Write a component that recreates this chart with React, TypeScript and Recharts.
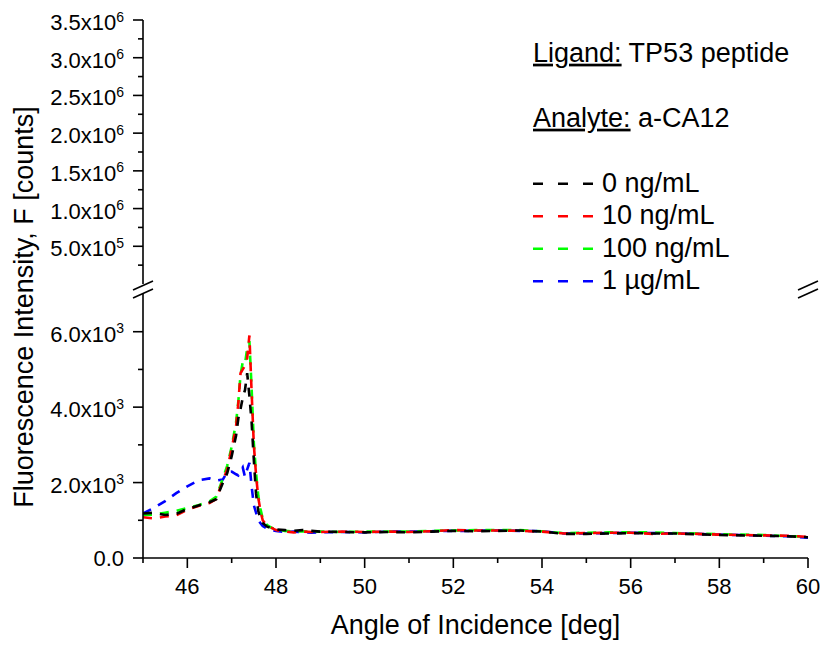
import React from 'react';
import { LineChart, Line, XAxis, YAxis } from 'recharts';

// ---------- data ----------
const angles = [
  45.0, 45.25, 45.5, 45.75, 46.0, 46.25, 46.5, 46.65, 46.8, 46.9, 47.0, 47.1, 47.15, 47.2,
  47.25, 47.3, 47.35, 47.4, 47.45, 47.5, 47.55, 47.6, 47.65, 47.7, 47.8, 47.9, 48.0, 48.2,
  48.4, 48.6, 48.8, 49.0, 49.5, 50.0, 50.5, 51.0, 51.5, 52.0, 52.5, 53.0, 53.5, 54.0, 54.5,
  55.0, 55.5, 56.0, 56.5, 57.0, 57.5, 58.0, 58.5, 59.0, 59.5, 60.0,
];
const conc0 = [
  1180, 1200, 1140, 1170, 1300, 1390, 1480, 1560, 1990, 2250, 2700, 3250, 3700, 3950,
  4250, 4450, 4900, 4300, 3600, 2600, 1700, 1250, 1050, 930, 830, 790, 760, 740,
  720, 740, 720, 700, 690, 680, 690, 680, 700, 720, 710, 720, 730, 700, 640,
  640, 650, 660, 650, 650, 630, 610, 600, 590, 580, 550,
];
const conc10 = [
  1080, 1050, 1100, 1130, 1280, 1380, 1460, 1560, 2050, 2350, 2900, 3500, 4100, 4900,
  5000, 5100, 5300, 5900, 4400, 3000, 2200, 1600, 1250, 1000, 850, 800, 740, 700,
  680, 700, 690, 690, 700, 690, 700, 690, 710, 740, 730, 730, 720, 700, 650,
  660, 670, 670, 640, 650, 640, 620, 610, 600, 590, 560,
];
const conc100 = [
  1140, 1150, 1200, 1250, 1330, 1400, 1500, 1620, 2100, 2450, 2950, 3600, 4150, 4850,
  5200, 5150, 5550, 5750, 4500, 3050, 2250, 1650, 1300, 1050, 870, 800, 760, 720,
  700, 710, 700, 700, 690, 700, 700, 700, 720, 730, 740, 740, 740, 710, 660,
  670, 680, 680, 680, 660, 650, 630, 620, 610, 580, 570,
];
const conc1000 = [
  1180, 1330, 1510, 1720, 1900, 2060, 2110, 2050, 2080, 2280, 2290, 2220, 2190, 2300,
  2400, 2150, 2350, 2520, 1900, 1400, 1200, 1000, 920, 850, 780, 740, 720, 690,
  700, 680, 670, 680, 690, 680, 700, 700, 710, 720, 720, 730, 720, 710, 650,
  650, 660, 670, 660, 650, 640, 620, 610, 590, 580, 540,
];
const seriesNames = ['0 ng/mL', '10 ng/mL', '100 ng/mL', '1 \u00b5g/mL'];
const seriesColors = ['#000000', '#ff0000', '#00ff00', '#0000ff'];
const seriesKeys = ['c0', 'c10', 'c100', 'c1000'];

const xTicks = [45, 46, 47, 48, 49, 50, 51, 52, 53, 54, 55, 56, 57, 58, 59, 60];
const lowerTicks = [0, 1000, 2000, 3000, 4000, 5000, 6000];
const upperTicks = [
  250000, 500000, 750000, 1000000, 1250000, 1500000, 1750000, 2000000, 2250000,
  2500000, 2750000, 3000000, 3250000, 3500000,
];

const data = angles.map((a, i) => ({
  angle: a,
  c0: conc0[i],
  c10: conc10[i],
  c100: conc100[i],
  c1000: conc1000[i],
}));

// ---------- layout ----------
const W = 822;
const H = 646;
const LEFT = 143;
const RIGHT = 808;
const UP_TOP = 20;
const UP_BOTTOM = 284;
const LOW_TOP = 294;
const LOW_BOTTOM = 558;
const FONT = '"Liberation Sans", Arial, sans-serif';
const AX_W = 1.6;

const fmt = (v: number) => {
  if (v === 0) return { base: '0.0', sup: '' };
  const exp = Math.floor(Math.log10(v) + 1e-9);
  const mant = v / Math.pow(10, exp);
  return { base: mant.toFixed(1) + 'x10', sup: String(exp) };
};

const makeYTick = (majorStep: number) => (props: any) => {
  const { x, y, payload } = props;
  const v = payload.value;
  const ax = x + 10;
  const major = Math.abs(v % majorStep) < 1e-6;
  const f = fmt(v);
  return (
    <g>
      <line x1={ax} x2={ax - (major ? 10 : 5)} y1={y} y2={y} stroke="#000" strokeWidth={AX_W} />
      {major && (
        <text
          x={ax - 19}
          y={y + (f.sup ? 10 : 7.5)}
          textAnchor="end"
          fontSize={22}
          fontFamily={FONT}
          fill="#000"
        >
          {f.base}
          {f.sup && (
            <tspan dy={-8.5} fontSize={14}>
              {f.sup}
            </tspan>
          )}
        </text>
      )}
    </g>
  );
};

const XTick = (props: any) => {
  const { x, y, payload } = props;
  const v = payload.value;
  const ay = y - 10;
  const major = v % 2 === 0;
  return (
    <g>
      <line x1={x} x2={x} y1={ay} y2={ay + (major ? 10 : 5)} stroke="#000" strokeWidth={AX_W} />
      {major && (
        <text x={x} y={ay + 36} textAnchor="middle" fontSize={22} fontFamily={FONT} fill="#000">
          {v}
        </text>
      )}
    </g>
  );
};

const breakMark = (ax: number) => (
  <g key={ax}>
    <line x1={ax - 10} y1={290} x2={ax + 10} y2={281} stroke="#000" strokeWidth={AX_W} />
    <line x1={ax - 10} y1={298} x2={ax + 10} y2={289} stroke="#000" strokeWidth={AX_W} />
  </g>
);

export default function App() {
  const abs: React.CSSProperties = { position: 'absolute', left: 0, top: 0 };
  return (
    <div style={{ position: 'absolute', left: 0, top: 0, width: W, height: H, background: '#fff' }}>
      {/* upper (empty) segment */}
      <div style={abs}>
        <LineChart
          width={W}
          height={H}
          data={data}
          margin={{ top: UP_TOP, right: W - RIGHT, left: 0, bottom: H - UP_BOTTOM }}
        >
          <XAxis
            xAxisId="top"
            orientation="top"
            dataKey="angle"
            type="number"
            domain={[45, 60]}
            height={0}
            tick={false}
            tickLine={false}
            axisLine={{ stroke: '#000', strokeWidth: AX_W }}
          />
          <YAxis
            yAxisId="up"
            type="number"
            domain={[0, 3500000]}
            ticks={upperTicks}
            interval={0}
            width={LEFT}
            tickSize={10}
            tickMargin={0}
            tickLine={false}
            tick={makeYTick(500000)}
            axisLine={{ stroke: '#000', strokeWidth: AX_W }}
            allowDataOverflow
          />
          <YAxis
            yAxisId="upR"
            orientation="right"
            type="number"
            domain={[0, 1]}
            width={0}
            tick={false}
            tickLine={false}
            axisLine={{ stroke: '#000', strokeWidth: AX_W }}
          />
        </LineChart>
      </div>
      {/* lower segment with data */}
      <div style={abs}>
        <LineChart
          width={W}
          height={H}
          data={data}
          margin={{ top: LOW_TOP, right: W - RIGHT, left: 0, bottom: 0 }}
        >
          <XAxis
            dataKey="angle"
            type="number"
            domain={[45, 60]}
            ticks={xTicks}
            interval={0}
            height={H - LOW_BOTTOM}
            tickSize={10}
            tickMargin={0}
            tickLine={false}
            tick={XTick}
            axisLine={{ stroke: '#000', strokeWidth: AX_W }}
            allowDataOverflow
          />
          <YAxis
            type="number"
            domain={[0, 7000]}
            ticks={lowerTicks}
            interval={0}
            width={LEFT}
            tickSize={10}
            tickMargin={0}
            tickLine={false}
            tick={makeYTick(2000)}
            axisLine={{ stroke: '#000', strokeWidth: AX_W }}
            allowDataOverflow
          />
          <YAxis
            yAxisId="lowR"
            orientation="right"
            type="number"
            domain={[0, 1]}
            width={0}
            tick={false}
            tickLine={false}
            axisLine={{ stroke: '#000', strokeWidth: AX_W }}
          />
          {[3, 2, 1, 0].map((i) => (
            <Line
              key={seriesKeys[i]}
              dataKey={seriesKeys[i]}
              name={seriesNames[i]}
              stroke={seriesColors[i]}
              strokeWidth={2.6}
              strokeDasharray="9 8"
              dot={false}
              activeDot={false}
              type="linear"
              isAnimationActive={false}
            />
          ))}
        </LineChart>
      </div>
      {/* annotations, legend, titles, axis breaks */}
      <svg width={W} height={H} style={{ ...abs, pointerEvents: 'none' }}>
        {breakMark(LEFT)}
        {breakMark(RIGHT)}
        <text
          transform={`translate(33, 307) rotate(-90)`}
          textAnchor="middle"
          fontSize={27}
          fontFamily={FONT}
          fill="#000"
        >
          Fluorescence Intensity, F [counts]
        </text>
        <text x={(LEFT + RIGHT) / 2} y={634} textAnchor="middle" fontSize={27} fontFamily={FONT} fill="#000">
          Angle of Incidence [deg]
        </text>
        <text x={533} y={61.7} fontSize={27} fontFamily={FONT} fill="#000">
          <tspan style={{ textDecoration: 'underline' }}>Ligand:</tspan> TP53 peptide
        </text>
        <text x={533} y={126.7} fontSize={27} fontFamily={FONT} fill="#000">
          <tspan style={{ textDecoration: 'underline' }}>Analyte:</tspan> a-CA12
        </text>
        {seriesNames.map((n, i) => {
          const base = 191.7 + i * 32.5;
          return (
            <g key={n}>
              <line
                x1={533}
                x2={593}
                y1={base - 8}
                y2={base - 8}
                stroke={seriesColors[i]}
                strokeWidth={2.6}
                strokeDasharray="10 15"
              />
              <text x={602} y={base} fontSize={27} fontFamily={FONT} fill="#000">
                {n}
              </text>
            </g>
          );
        })}
      </svg>
    </div>
  );
}
